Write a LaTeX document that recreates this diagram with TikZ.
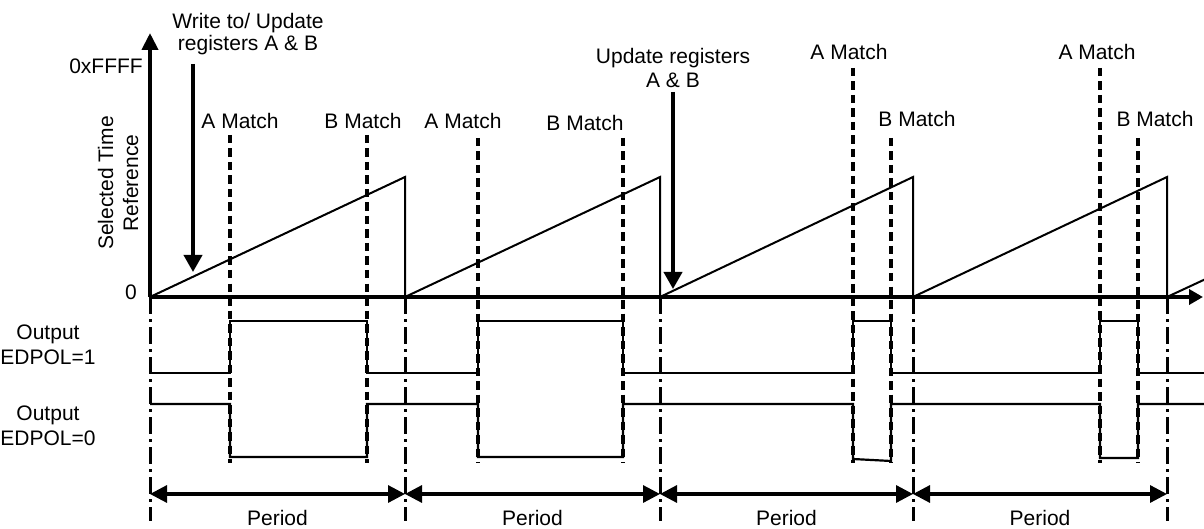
\documentclass[tikz,border=0pt]{standalone}
\usepackage{fontspec}
\setmainfont{Liberation Sans}
\usetikzlibrary{arrows.meta}
\begin{document}
\begin{tikzpicture}[x=1pt,y=-1pt,
  lbl/.style={font=\fontsize{21}{24}\selectfont, inner sep=0pt, align=center},
  axisline/.style={line width=4pt},
  ramp/.style={line width=2pt, line join=miter},
  wave/.style={line width=2.2pt, line join=miter},
  matchline/.style={line width=3.2pt, dash pattern=on 8.5pt off 5pt},
  periodline/.style={line width=3pt, dash pattern=on 17pt off 5pt on 3pt off 5pt},
  spanarrow/.style={line width=3.2pt, {Triangle[length=17pt,width=17pt]}-{Triangle[length=17pt,width=17pt]}},
  callout/.style={line width=3.8pt, -{Triangle[length=17pt,width=18pt]}}]
\useasboundingbox (0,0) rectangle (1204,529);

% period boundaries (dash-dot markers) and period spans
\foreach \i/\x in {0/150,1/405,2/660,3/913,4/1167}{
  \coordinate (ax\i) at (\x,297);
  \coordinate (pk\i) at (\x,177);
  \coordinate (pb\i) at (\x,521);
  \coordinate (ps\i) at (\x,494);
  \draw[periodline] (ax\i) -- (pb\i);
}
\foreach \i/\j in {0/1,1/2,2/3,3/4}{
  \draw[spanarrow] (ps\i) -- (ps\j);
  \path (ps\i) -- (ps\j) node[lbl, midway, yshift=-24pt] (per\i) {Period};
}

% compare-match markers
\foreach \n/\x/\t in {a1/230/135, b1/367/135, a2/478/138, b2/623/138,
                      a3/853/68, b3/891/138, a4/1100/68, b4/1138/138}{
  \coordinate (\n top) at (\x,\t);
  \coordinate (\n bot) at (\x,463);
  \draw[matchline] (\n top) -- (\n bot);
}
\node[lbl] (la1) at (240,121) {A Match};
\node[lbl] (lb1) at (363,121) {B Match};
\node[lbl] (la2) at (463,121) {A Match};
\node[lbl] (lb2) at (585,123) {B Match};
\node[lbl] (la3) at (849,52) {A Match};
\node[lbl] (lb3) at (917,119) {B Match};
\node[lbl] (la4) at (1097,52) {A Match};
\node[lbl] (lb4) at (1155,119) {B Match};

% time reference ramps
\draw[ramp] (ax0) -- (pk1) -- (ax1);
\draw[ramp] (ax1) -- (pk2) -- (ax2);
\draw[ramp] (ax2) -- (pk3) -- (ax3);
\draw[ramp] (ax3) -- (pk4) -- (ax4);
\draw[ramp] (ax4) -- (1210,277);

% output waveforms
\draw[wave] (150,373) -- (230,373) -- (230,321) -- (367,321) -- (367,373)
  -- (478,373) -- (478,321) -- (623,321) -- (623,373)
  -- (853,373) -- (853,321) -- (891,321) -- (891,373)
  -- (1100,373) -- (1100,321) -- (1138,321) -- (1138,373) -- (1210,373);
\draw[wave] (150,404) -- (230,404) -- (230,457) -- (367,457) -- (367,404)
  -- (478,404) -- (478,457) -- (623,457) -- (623,404)
  -- (853,404) -- (853,459) -- (891,461) -- (891,404)
  -- (1100,404) -- (1100,458) -- (1138,458) -- (1138,404) -- (1210,404);

% axes
\coordinate (ytip) at (150,33);
\coordinate (xtip) at (1203,297);
\draw[axisline, -{Triangle[length=17pt,width=16pt]}] (ax0) -- (ytip);
\draw[axisline, -{Triangle[length=14pt,width=15pt]}] (ax0) -- (xtip);
\node[lbl, anchor=east] (ymax) at (143,66) {0xFFFF};
\node[lbl] (yzero) at (131,292) {0};
\node[lbl, rotate=90, font=\fontsize{21}{25}\selectfont] (ytitle) at (118,183) {Selected Time\\Reference};

% output labels
\node[lbl, font=\fontsize{21}{25}\selectfont] (out1) at (48,345) {Output\\EDPOL=1};
\node[lbl, font=\fontsize{21}{25}\selectfont] (out0) at (48,426) {Output\\EDPOL=0};

% register update call-outs
\node[lbl, font=\fontsize{21}{22}\selectfont] (wr) at (248,34) {Write to/ Update\\registers A \& B};
\coordinate (wrs) at (193,64);
\coordinate (wre) at (193,272);
\draw[callout] (wrs) -- (wre);
\node[lbl, font=\fontsize{21}{24}\selectfont] (up) at (673,68) {Update registers\\A \& B};
\coordinate (ups) at (673,92);
\coordinate (upe) at (673,289);
\draw[callout] (ups) -- (upe);
\end{tikzpicture}
\end{document}
